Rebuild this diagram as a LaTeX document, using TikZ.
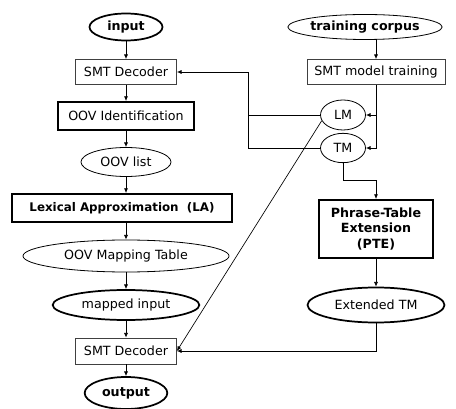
\documentclass[tikz,border=0pt]{standalone}
\usepackage{fontspec}
\setmainfont{DejaVu Sans}
\usetikzlibrary{shapes.geometric,arrows.meta}

\tikzset{Boite/.style={draw,black!75,text=black,line width=0.6pt,rectangle,inner sep=0pt,font=\fontsize{9.5}{11}\selectfont}}
\tikzset{BoiteEp/.style={Boite,draw=black,line width=1.5pt,align=center}}
\tikzset{Bulle/.style={draw,black,line width=0.6pt,ellipse,inner sep=0pt,font=\fontsize{9.5}{11}\selectfont}}
\tikzset{BulleEp/.style={Bulle,line width=1.3pt}}
\tikzset{Gras/.style={font=\fontsize{9.5}{11.5}\selectfont\bfseries}}
\tikzset{Fl/.style={-{Latex[length=3.5pt,width=3pt]},line width=0.5pt}}

\begin{document}
\begin{tikzpicture}[x=0.75pt,y=-0.75pt]
\useasboundingbox (0,0) rectangle (456,409);
\clip (0,0) rectangle (456,409);

% colonne de gauche
\node[BulleEp,Gras,minimum width=54.75pt,minimum height=20.25pt] (In) at (126,27) {input};
\node[Boite,minimum width=75.75pt,minimum height=18.75pt] (Dec1) at (126,72) {SMT Decoder};
\node[BoiteEp,minimum width=102pt,minimum height=21pt] (OovId) at (126,116) {OOV Identification};
\node[Bulle,minimum width=67.5pt,minimum height=21.75pt] (OovList) at (126,162) {OOV list};
\node[BoiteEp,minimum width=165pt,minimum height=21pt,font=\fontsize{8.9}{11}\selectfont\bfseries] (LA) at (122,208) {Lexical Approximation~~(LA)};
\node[Bulle,minimum width=154.5pt,minimum height=24pt] (Map) at (126,256) {OOV Mapping Table};
\node[BulleEp,minimum width=110pt,minimum height=22.5pt] (Mapped) at (126,305) {mapped input};
\node[Boite,minimum width=75.75pt,minimum height=19.5pt] (Dec2) at (126,351) {SMT Decoder};
\node[BulleEp,Gras,minimum width=62pt,minimum height=24pt] (Out) at (126,393) {output};

% colonne de droite
\node[Bulle,Gras,minimum width=112.5pt,minimum height=18.75pt] (Corpus) at (365,27) {training corpus};
\node[Boite,minimum width=103.5pt,minimum height=18.75pt] (Train) at (376,72) {SMT model training};
\node[Bulle,minimum width=33.75pt,minimum height=22.5pt] (LM) at (343,115) {LM};
\node[Bulle,minimum width=33.75pt,minimum height=22pt] (TM) at (343,148) {TM};
\node[BoiteEp,Gras,minimum width=85.5pt,minimum height=43.5pt] (PTE) at (376,229) {Phrase-Table\\Extension\\(PTE)};
\node[BulleEp,minimum width=102.75pt,minimum height=26.25pt] (ETM) at (376,305) {Extended TM};

\coordinate (Bus) at (248,0);

\draw[Fl] (In) -- (Dec1);
\draw[Fl] (Dec1) -- (OovId);
\draw[Fl] (OovId) -- (OovList);
\draw[Fl] (OovList) -- (OovList |- LA.north);
\draw[Fl] (LA.south -| Map) -- (Map);
\draw[Fl] (Map) -- (Mapped);
\draw[Fl] (Mapped) -- (Dec2);
\draw[Fl] (Dec2) -- (Out);

\draw[Fl] (Corpus.south -| Train) -- (Train);
\draw[Fl] (Train.south) |- (LM.east);
\draw[Fl] (Train.south) |- (TM.east);
\draw[Fl] (LM.west) -- (LM.west -| Bus) |- (Dec1.east);
\draw (TM.west) -- (TM.west -| Bus) -- (LM.west -| Bus);
\draw[Fl] (LM.195) -- (Dec2.east);
\draw[Fl] (TM.south) -- ++(0,17) -| (PTE.north);
\draw[Fl] (PTE) -- (ETM);
\draw[Fl] (ETM.south) |- (Dec2.east);

\end{tikzpicture}
\end{document}
